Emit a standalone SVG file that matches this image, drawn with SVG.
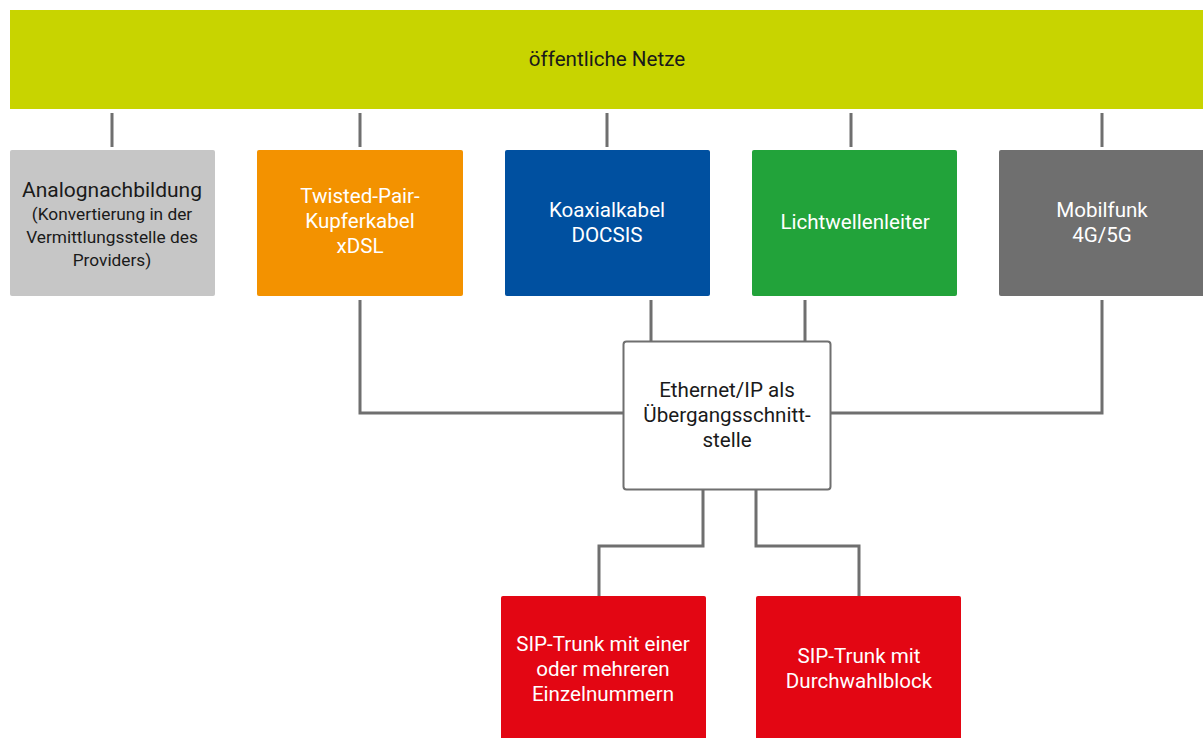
<svg xmlns="http://www.w3.org/2000/svg" width="1203" height="738" viewBox="0 0 1203 738">
<style>
text{font-family:Roboto,"Liberation Sans",sans-serif;font-size:20.6px;text-anchor:middle}
.w{fill:#ffffff}
.k{fill:#1a1a1a}
.s{font-size:17.3px}
.c{fill:none;stroke:#6f6f6f;stroke-width:3}
</style>
<rect width="1203" height="738" fill="#ffffff"/>
<g id="connectors">
<path class="c" d="M112 113V147M360 113V147M607 113V147M851 113V147M1102 113V147"/>
<path class="c" d="M360 300V413H623M651 300V341M805 300V341M1102 300V413H831"/>
<path class="c" d="M703 490V546H599V596M756 490V546H859V596"/>
</g>
<g id="oeffentliche-netze">
<rect x="10" y="10" width="1193" height="99" fill="#c8d400"/>
<text class="k" x="607" y="66">öffentliche Netze</text>
</g>
<g id="analog">
<rect x="10" y="150" width="205" height="146" rx="2" fill="#c6c6c6"/>
<text class="k" x="112" y="197" style="font-size:21px">Analognachbildung</text>
<text class="k s" x="112" y="220">(Konvertierung in der</text>
<text class="k s" x="112" y="243">Vermittlungsstelle des</text>
<text class="k s" x="112" y="266">Providers)</text>
</g>
<g id="twisted-pair">
<rect x="257" y="150" width="206" height="146" rx="2" fill="#f39200"/>
<text class="w" x="360" y="203">Twisted-Pair-</text>
<text class="w" x="360" y="228">Kupferkabel</text>
<text class="w" x="360" y="253">xDSL</text>
</g>
<g id="koaxial">
<rect x="505" y="150" width="205" height="146" rx="2" fill="#0050a0"/>
<text class="w" x="607" y="217">Koaxialkabel</text>
<text class="w" x="607" y="242">DOCSIS</text>
</g>
<g id="lwl">
<rect x="752" y="150" width="205" height="146" rx="2" fill="#22a33a"/>
<text class="w" x="855" y="229">Lichtwellenleiter</text>
</g>
<g id="mobilfunk">
<rect x="999" y="150" width="210" height="146" rx="2" fill="#6f6f6f"/>
<text class="w" x="1102" y="217">Mobilfunk</text>
<text class="w" x="1102" y="242">4G/5G</text>
</g>
<g id="ethernet">
<rect x="623.5" y="341.5" width="207" height="148" rx="3" fill="#ffffff" stroke="#6f6f6f" stroke-width="2"/>
<text class="k" x="727" y="397">Ethernet/IP als</text>
<text class="k" x="727" y="422">Übergangsschnitt-</text>
<text class="k" x="727" y="447">stelle</text>
</g>
<g id="sip-einzel">
<rect x="501" y="596" width="205" height="150" rx="2" fill="#e30613"/>
<text class="w" x="603" y="651">SIP-Trunk mit einer</text>
<text class="w" x="603" y="676">oder mehreren</text>
<text class="w" x="603" y="701">Einzelnummern</text>
</g>
<g id="sip-durchwahl">
<rect x="756" y="596" width="205" height="150" rx="2" fill="#e30613"/>
<text class="w" x="859" y="663">SIP-Trunk mit</text>
<text class="w" x="859" y="688">Durchwahlblock</text>
</g>
</svg>
